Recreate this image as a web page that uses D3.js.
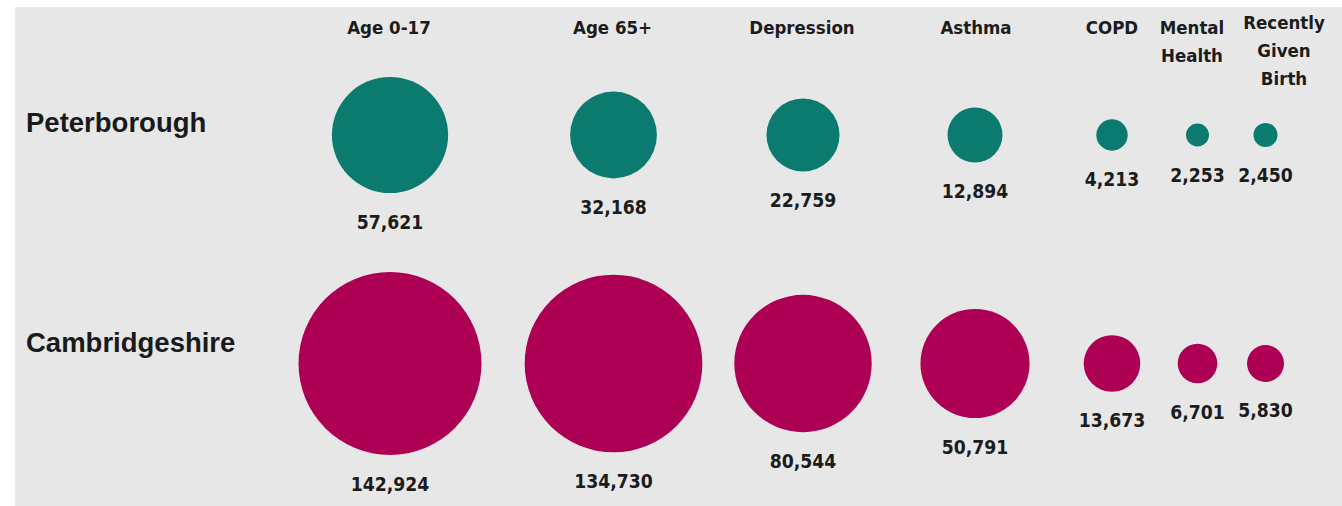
<!DOCTYPE html>
<html>
<head>
<meta charset="utf-8">
<script src="https://cdn.jsdelivr.net/npm/d3@7/dist/d3.min.js"></script>
<style>
  html, body { margin: 0; padding: 0; background: #ffffff; }
  svg { display: block; }
  .hdr { font-family: "DejaVu Sans Condensed", "DejaVu Sans", sans-serif; font-weight: bold; font-size: 18.5px; fill: #1c1c1c; }
  .val { font-family: "DejaVu Sans Condensed", "DejaVu Sans", sans-serif; font-weight: bold; font-size: 19.2px; fill: #1c1c1c; }
  .row { font-family: "Liberation Sans", Arial, sans-serif; font-weight: bold; font-size: 27.5px; fill: #1a1a1a; }
</style>
</head>
<body>
<script>
// Categories (columns) and their header lines
const categories = ["Age 0-17", "Age 65+", "Depression", "Asthma", "COPD", "Mental Health", "Recently Given Birth"];
const headerLines = [["Age 0-17"], ["Age 65+"], ["Depression"], ["Asthma"], ["COPD"], ["Mental", "Health"], ["Recently", "Given", "Birth"]];

// Areas (rows)
const areas = ["Peterborough", "Cambridgeshire"];

// Counts per category
const peterborough = [57621, 32168, 22759, 12894, 4213, 2253, 2450];
const cambridgeshire = [142924, 134730, 80544, 50791, 13673, 6701, 5830];

const W = 1342, H = 506;
const svg = d3.select("body").append("svg").attr("width", W).attr("height", H);

// Light grey panel
svg.append("rect").attr("x", 15).attr("y", 7).attr("width", W - 15).attr("height", H - 7).attr("fill", "#e7e7e7");

// Column centres for the bubbles and for the header labels
const x = d3.scaleOrdinal().domain(categories).range([390, 613.5, 803, 975, 1112, 1197.5, 1265.5]);
const xHeader = d3.scaleOrdinal().domain(categories).range([389, 612.5, 802, 976, 1112, 1192, 1284]);
const y = d3.scaleOrdinal().domain(areas).range([135, 363.5]);
const color = d3.scaleOrdinal().domain(areas).range(["#0b7b6f", "#ad0055"]);

const maxVal = d3.max(cambridgeshire.concat(peterborough));
const r = d3.scaleSqrt().domain([0, maxVal]).range([0, 91.5]);

const rows = [
  { area: "Peterborough", values: peterborough },
  { area: "Cambridgeshire", values: cambridgeshire }
];
const fmt = d3.format(",");

// Header labels
const hdr = svg.append("g").selectAll("text")
  .data(categories)
  .join("text")
  .attr("class", "hdr")
  .attr("text-anchor", "middle")
  .attr("x", d => xHeader(d))
  .attr("y", (d, i) => headerLines[i].length === 3 ? 29 : 34);
hdr.each(function(d, i) {
  const t = d3.select(this);
  headerLines[i].forEach((line, j) => {
    t.append("tspan").attr("x", xHeader(d)).attr("dy", j === 0 ? 0 : 28).text(line);
  });
});

// Row labels
svg.append("g").selectAll("text")
  .data(areas)
  .join("text")
  .attr("class", "row")
  .attr("x", 26)
  .attr("y", d => y(d) - 3.5 + (d === "Cambridgeshire" ? -8 : 0))
  .text(d => d);

// Bubbles and value labels
const rowG = svg.append("g").selectAll("g")
  .data(rows)
  .join("g");

rowG.selectAll("circle")
  .data(d => d.values.map((v, i) => ({ area: d.area, cat: categories[i], v })))
  .join("circle")
  .attr("cx", d => x(d.cat))
  .attr("cy", d => y(d.area))
  .attr("r", d => r(d.v))
  .attr("fill", d => color(d.area));

rowG.selectAll("text")
  .data(d => d.values.map((v, i) => ({ area: d.area, cat: categories[i], v })))
  .join("text")
  .attr("class", "val")
  .attr("text-anchor", "middle")
  .attr("x", d => x(d.cat))
  .attr("y", d => y(d.area) + r(d.v) + 35.5)
  .text(d => fmt(d.v));
</script>
</body>
</html>
